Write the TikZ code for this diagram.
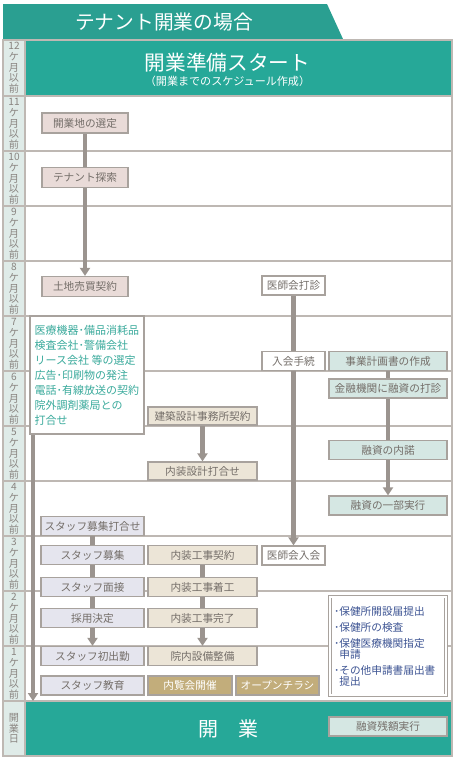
\documentclass[tikz,border=0pt]{standalone}
\usepackage{fontspec}
\setmainfont{Noto Sans CJK JP}
\usepackage{tikz}
\usetikzlibrary{
  arrows.meta,
  backgrounds
}
\definecolor{bandteal}{HTML}{26A898}
\definecolor{titleteal}{HTML}{2A9F91}
\definecolor{labfill}{HTML}{DFEBE8}
\definecolor{gridgray}{HTML}{BEB8B3}
\definecolor{flowgray}{HTML}{9B948F}
\definecolor{boxline}{HTML}{A8A29D}
\definecolor{boxtext}{HTML}{746E69}
\definecolor{pinkfill}{HTML}{E9DBD8}
\definecolor{stafffill}{HTML}{E5E5EE}
\definecolor{workfill}{HTML}{ECE5D7}
\definecolor{goldfill}{HTML}{C2AD7B}
\definecolor{finfill}{HTML}{D5E7E3}
\definecolor{tealtext}{HTML}{3AAA9C}
\definecolor{navytext}{HTML}{3D5493}
\tikzset{>={Triangle[width=7.5pt,length=6pt]}}
\tikzset{
  box/.style={draw=boxline, line width=0.9pt, inner sep=0pt, text=boxtext,
    font=\fontsize{8}{9}\selectfont, minimum height=14.25pt},
  sitebox/.style={box, fill=pinkfill, minimum width=64.5pt, minimum height=15pt},
  staffbox/.style={box, fill=stafffill, minimum width=77.25pt},
  workbox/.style={box, fill=workfill, minimum width=81.75pt},
  goldbox/.style={box, fill=goldfill, text=white},
  ishibox/.style={box, fill=white, minimum width=47.25pt},
  finbox/.style={box, fill=finfill, minimum width=88.5pt},
  flow/.style={draw=flowgray, line width=3.3pt},
  rowline/.style={draw=gridgray, line width=0.9pt},
  monthlab/.style={align=center, text=boxtext!85, inner sep=0pt,
    font=\fontsize{7.6}{8}\selectfont}
}

\begin{document}
\begin{tikzpicture}[x=0.75pt,y=-0.75pt]
	\useasboundingbox (0,0) rectangle (455,758);
	% month column
	\node[monthlab] (M12) at (14,68) {12\\ケ\\月\\以\\前};
	\foreach \m [count=\i from 0] in {11,10,...,1}
		\node[monthlab] (M\m) at (14,{124+55*\i}) {\m\\ケ\\月\\以\\前};
	\node[monthlab] (M0) at (14,728.5) {開\\業\\日};
	% headings
	\node[font=\fontsize{14.8}{16}\selectfont, text=white] (title) at (164,22) {テナント開業の場合};
	\node[font=\fontsize{15.5}{17}\selectfont, text=white] (start) at (227.5,63) {開業準備スタート};
	\node[font=\fontsize{8.3}{9}\selectfont, text=white] (plan) at (227.5,81) {（開業までのスケジュール作成）};
	\node[font=\fontsize{15}{17}\selectfont, text=white] (open) at (228,729) {開　業};
	% site
	\node[sitebox] (A1) at (85,123) {開業地の選定};
	\node[sitebox] (A2) at (85,177.5) {テナント探索};
	\node[sitebox] (A3) at (85,286.5) {土地売買契約};
	% preparations
	\node[draw=boxline, line width=0.9pt, fill=white, text=tealtext, align=left,
		inner sep=0pt, minimum width=85.5pt, minimum height=88.5pt,
		font=\fontsize{8.25}{11.25}\selectfont] (T) at (87,375)
		{医療機器･備品消耗品\\検査会社･警備会社\\リース会社 等の選定\\広告･印刷物の発注\\電話･有線放送の契約\\院外調剤薬局との\\打合せ};
	% staff
	\node[staffbox] (S1) at (92.5,526) {スタッフ募集打合せ};
	\node[staffbox] (S2) at (92.5,555) {スタッフ募集};
	\node[staffbox] (S3) at (92.5,587) {スタッフ面接};
	\node[staffbox] (S4) at (92.5,618) {採用決定};
	\node[staffbox] (S5) at (92.5,656) {スタッフ初出勤};
	\node[staffbox] (S6) at (92.5,685.5) {スタッフ教育};
	% design and works
	\node[workbox, minimum height=13.5pt] (K1) at (202.5,416) {建築設計事務所契約};
	\node[workbox, minimum height=13.5pt] (K2) at (202.5,471) {内装設計打合せ};
	\node[workbox] (N1) at (202.5,555) {内装工事契約};
	\node[workbox] (N2) at (202.5,587) {内装工事着工};
	\node[workbox] (N3) at (202.5,618) {内装工事完了};
	\node[workbox] (N4) at (202.5,656) {院内設備整備};
	\node[goldbox, minimum width=63pt] (G1) at (190,685.5) {内覧会開催};
	\node[goldbox, minimum width=62.25pt] (G2) at (277.5,685.5) {オープンチラシ};
	% medical association
	\node[ishibox] (I1) at (293.5,285.5) {医師会打診};
	\node[ishibox] (I2) at (293.5,361) {入会手続};
	\node[ishibox] (I3) at (293.5,555.5) {医師会入会};
	% finance
	\node[finbox] (F1) at (388,361) {事業計画書の作成};
	\node[finbox] (F2) at (388,388.5) {金融機関に融資の打診};
	\node[finbox] (F3) at (388,450) {融資の内諾};
	\node[finbox] (F4) at (388,505.5) {融資の一部実行};
	\node[finbox] (F5) at (388,726.5) {融資残額実行};
	% applications
	\node[draw=boxline, line width=0.6pt, double=white, double distance=1.4pt,
		fill=white, text=navytext, align=left, inner xsep=3pt, inner ysep=0pt,
		text width=81pt, minimum height=74pt,
		font=\fontsize{8}{7.8}\selectfont] (H) at (388,646)
		{･保健所開設届提出\\[4.5pt]･保健所の検査\\[4.5pt]･保健医療機関指定\\\phantom{･}申請\\[4.5pt]･その他申請書届出書\\\phantom{･}提出};
	\coordinate (E) at (33,701);
	\begin{scope}[on background layer]
		\fill[titleteal] (3,4) -- (327,4) -- (343,39) -- (3,39) -- cycle;
		\fill[labfill] (3,40) rectangle (25,756);
		\fill[bandteal] (25,40) rectangle (452,96);
		\fill[bandteal] (25,701) rectangle (452,756);
		\foreach \k in {0,...,11}
			\draw[rowline] (3,{96+55*\k}) -- (452,{96+55*\k});
		\draw[rowline] (25,40) -- (25,756);
		\draw[rowline] (3,40) rectangle (452,756);
		% flows
		\draw[flow,->] (A1) -- (A3);
		\draw[flow,->] (E |- T.south) -- (E);
		\draw[flow] (S1) -- (S2);
		\draw[flow] (S2) -- (S3);
		\draw[flow] (S3) -- (S4);
		\draw[flow,->] (S4) -- (S5);
		\draw[flow,->] (K1) -- (K2);
		\draw[flow] (N1) -- (N2);
		\draw[flow] (N2) -- (N3);
		\draw[flow,->] (N3) -- (N4);
		\draw[flow,->] (I1) -- (I3);
		\draw[flow,->] (F1) -- (F4);
	\end{scope}
\end{tikzpicture}
\end{document}
